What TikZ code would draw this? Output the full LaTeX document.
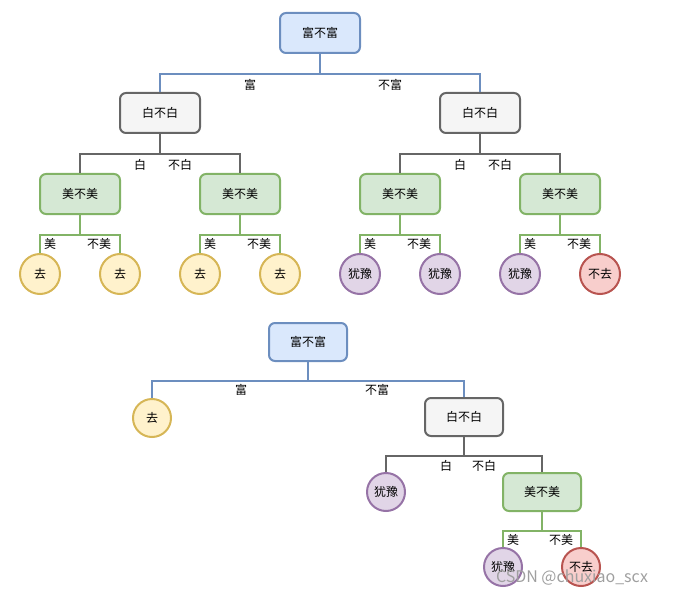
\documentclass[tikz,border=0pt]{standalone}
\usepackage{fontspec}
\setmainfont{Noto Sans CJK SC}
\definecolor{bF}{HTML}{DAE8FC}\definecolor{bS}{HTML}{6C8EBF}
\definecolor{gF}{HTML}{F5F5F5}\definecolor{gS}{HTML}{666666}
\definecolor{nF}{HTML}{D5E8D4}\definecolor{nS}{HTML}{82B366}
\definecolor{yF}{HTML}{FFF2CC}\definecolor{yS}{HTML}{D6B656}
\definecolor{pF}{HTML}{E1D5E7}\definecolor{pS}{HTML}{9673A6}
\definecolor{rF}{HTML}{F8CECC}\definecolor{rS}{HTML}{B85450}
\begin{document}
\begin{tikzpicture}[x=1pt,y=-1pt,font=\fontsize{12}{14}\selectfont,
 box/.style={draw,rounded corners=6pt,line width=2pt,minimum width=80pt,minimum height=40pt,inner sep=0pt},
 sbox/.style={box,minimum width=78pt,minimum height=38pt},
 blue/.style={box,fill=bF,draw=bS}, gray/.style={box,fill=gF,draw=gS}, green/.style={box,fill=nF,draw=nS},
 leaf/.style={circle,line width=2pt,minimum size=40pt,inner sep=0pt},
 sleaf/.style={leaf,minimum size=38pt},
 yel/.style={fill=yF,draw=yS}, pur/.style={fill=pF,draw=pS}, red/.style={fill=rF,draw=rS},
 lab/.style={inner sep=0pt},
 wire/.style={line width=2pt},
 conn/.style={to path={(\tikztostart.south) -- ++(0,#1) -| (\tikztotarget.north)}}]
\useasboundingbox (0,0) rectangle (674,596);
% top tree
\node[blue] (r) at (320,33) {富不富};
\node[gray] (a) at (160,113) {白不白};
\node[gray] (b) at (480,113) {白不白};
\node[green] (a1) at (80,194) {美不美};
\node[green] (a2) at (240,194) {美不美};
\node[green] (b1) at (400,194) {美不美};
\node[green] (b2) at (560,194) {美不美};
\node[leaf,yel] (l1) at (40,274) {去};
\node[leaf,yel] (l2) at (120,274) {去};
\node[leaf,yel] (l3) at (200,274) {去};
\node[leaf,yel] (l4) at (280,274) {去};
\node[leaf,pur] (l5) at (360,274) {犹豫};
\node[leaf,pur] (l6) at (440,274) {犹豫};
\node[leaf,pur] (l7) at (520,274) {犹豫};
\node[leaf,red] (l8) at (600,274) {不去};
\draw[wire,draw=bS] (r) to[conn=20] (a) (r) to[conn=20] (b);
\draw[wire,draw=gS] (a) to[conn=20] (a1) (a) to[conn=20] (a2) (b) to[conn=20] (b1) (b) to[conn=20] (b2);
\draw[wire,draw=nS] (a1) to[conn=20] (l1) (a1) to[conn=20] (l2) (a2) to[conn=20] (l3) (a2) to[conn=20] (l4)
 (b1) to[conn=20] (l5) (b1) to[conn=20] (l6) (b2) to[conn=20] (l7) (b2) to[conn=20] (l8);
\node[lab] (t1) at (250,85) {富}; \node[lab] (t2) at (390,85) {不富};
\foreach \x/\n in {140/a,460/b}{\node[lab] (w\n) at (\x,165) {白}; \node[lab] (nw\n) at (\x+40,165) {不白};}
\foreach \x/\n in {50/1,210/2,370/3,530/4}{\node[lab] (m\n) at (\x,244) {美}; \node[lab] (nm\n) at (\x+49,244) {不美};}
% bottom tree
\node[blue,sbox] (R) at (308,342) {富不富};
\node[sleaf,yel] (Q) at (152,418) {去};
\node[gray,sbox] (B) at (464,417) {白不白};
\node[sleaf,pur] (Y) at (386,492) {犹豫};
\node[green,sbox] (G) at (542,492) {美不美};
\node[sleaf,pur] (Y2) at (503,567) {犹豫};
\node[sleaf,red] (N2) at (581,567) {不去};
\draw[wire,draw=bS] (R) to[conn=19] (Q) (R) to[conn=19] (B);
\draw[wire,draw=gS] (B) to[conn=19] (Y) (B) to[conn=19] (G);
\draw[wire,draw=nS] (G) to[conn=19] (Y2) (G) to[conn=19] (N2);
\node[lab] (T1) at (241,390) {富}; \node[lab] (T2) at (377,390) {不富};
\node[lab] (T3) at (446,466) {白}; \node[lab] (T4) at (484,466) {不白};
\node[lab] (T5) at (513,540) {美}; \node[lab] (T6) at (561,540) {不美};
\node[lab,text=gray!75,font=\fontsize{16}{18}\selectfont] (wm) at (572,578) {CSDN @chuxiao\_scx};
\end{tikzpicture}
\end{document}
